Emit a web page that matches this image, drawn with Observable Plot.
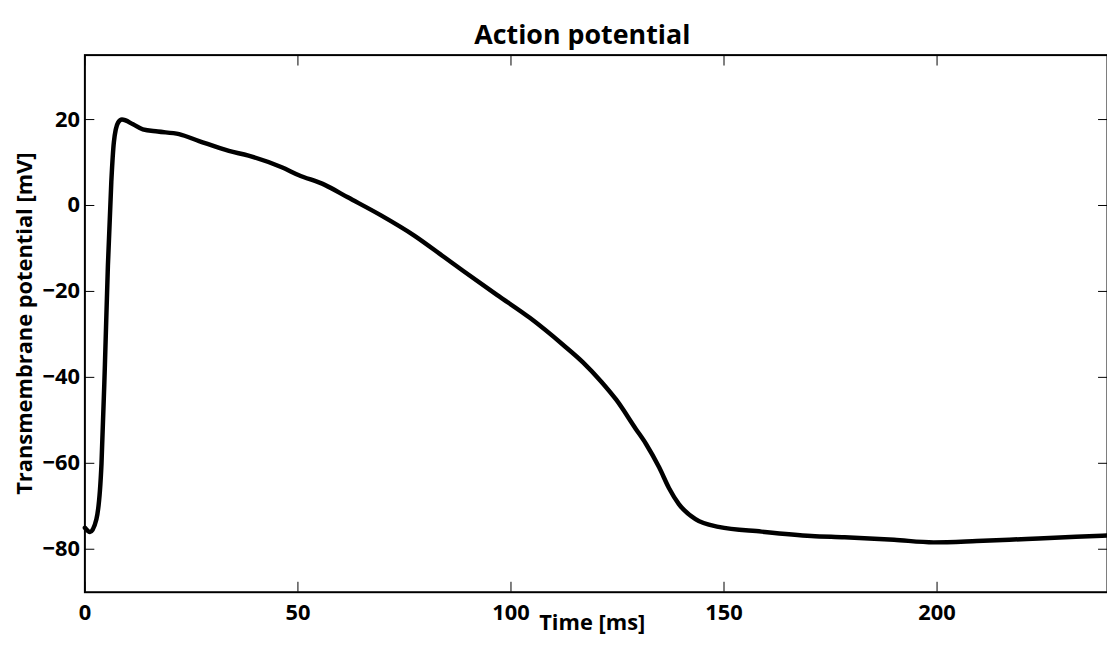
<!DOCTYPE html>
<html>
<head>
<meta charset="utf-8">
<script src="https://cdn.jsdelivr.net/npm/d3@7"></script>
<script src="https://cdn.jsdelivr.net/npm/@observablehq/plot@0.6"></script>
<style>
  html, body { margin: 0; padding: 0; background: #fff; overflow: hidden; }
  #chart { width: 1107px; height: 652px; overflow: hidden; }
  svg { font-family: "Open Sans", sans-serif; }
</style>
</head>
<body>
<div id="chart"></div>
<script>
// Time [ms]
const time = [0, 1.2, 2.7, 3.9, 4.7, 5.4, 6.2, 6.8, 7.8, 8.7, 11.3, 13.6, 17.1, 22.1, 26.8, 33.8, 38.4, 46.2, 50.1, 56.3, 61.7, 69.5, 77.3, 84.3, 88.9, 96.7, 104.5, 112.2, 116.9, 121.2, 124.7, 129.3, 131.7, 134.8, 137.1, 139.4, 143.3, 148.7, 158.8, 170.5, 178.3, 189.9, 199.2, 209.3, 221, 232.6, 240];
// Transmembrane potential [mV]
const potential = [-75, -76, -73, -60, -37, -14, 5.5, 14.7, 19.3, 20, 18.9, 17.7, 17.2, 16.6, 15.0, 12.7, 11.6, 8.9, 7.1, 4.8, 1.9, -2.3, -7.0, -12.0, -15.3, -20.8, -26.2, -32.4, -36.5, -41.0, -45.2, -52.0, -55.5, -61.0, -65.8, -69.5, -73.0, -74.8, -75.9, -76.9, -77.2, -77.8, -78.4, -78.1, -77.6, -77.1, -76.8];
const xTicks = [0, 50, 100, 150, 200];
const yTicks = [-80, -60, -40, -20, 0, 20];
const titleText = "Action potential";
const xLabel = "Time [ms]";
const yLabel = "Transmembrane potential [mV]";

const data = time.map((t, i) => ({t, v: potential[i]}));
const fmt = d => d < 0 ? "\u2212" + Math.abs(d) : String(d);
const font = "'Open Sans', sans-serif";

const chart = Plot.plot({
  width: 1115,
  height: 652,
  marginTop: 55,
  marginBottom: 56,
  marginLeft: 85,
  marginRight: 0,
  style: {fontFamily: font, color: "#000", background: "#fff"},
  x: {domain: [0, 240]},
  y: {domain: [-90, 35]},
  marks: [
    Plot.frame({stroke: "#000", strokeWidth: 2}),
    Plot.axisX(xTicks, {anchor: "bottom", tickSize: -10, tickPadding: 22, tickFormat: fmt, fontSize: 22, fontWeight: 700, label: null, strokeWidth: 1}),
    Plot.axisX(xTicks, {anchor: "top", tickSize: -10, tickFormat: () => "", label: null, strokeWidth: 1}),
    Plot.axisY(yTicks, {anchor: "left", tickSize: -10, tickPadding: 15, tickFormat: fmt, fontSize: 22, fontWeight: 700, label: null, strokeWidth: 1}),
    Plot.axisY(yTicks, {anchor: "right", tickSize: -10, tickFormat: () => "", label: null, strokeWidth: 1}),
    Plot.line(data, {x: "t", y: "v", stroke: "#000", strokeWidth: 4.5, curve: "monotone-x"}),
    Plot.text([titleText], {frameAnchor: "top", dy: -30, dx: -14, fontSize: 27, fontWeight: 700, fill: "#000"}),
    Plot.text([xLabel], {frameAnchor: "bottom", dy: 38, dx: -4, fontSize: 22, fontWeight: 700, fill: "#000"}),
    Plot.text([yLabel], {frameAnchor: "left", textAnchor: "middle", dx: -60, rotate: -90, fontSize: 22, fontWeight: 700, fill: "#000"})
  ]
});
document.getElementById("chart").appendChild(chart);
</script>
</body>
</html>
